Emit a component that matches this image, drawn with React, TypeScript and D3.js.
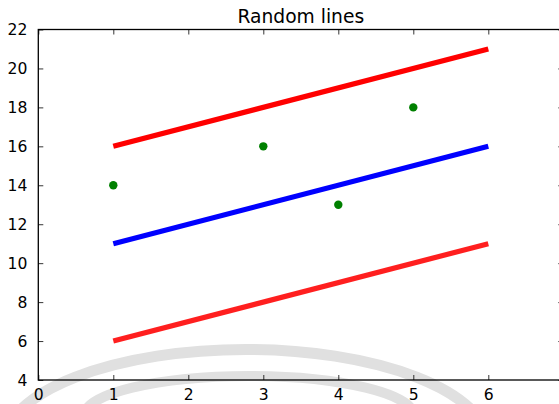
import React, { useRef, useEffect } from "react";
import * as d3 from "d3";

// line endpoints (x) and the y values of the three lines
const lineX = [1, 6];
const upperRed = [16, 21];
const blueLine = [11, 16];
const lowerRed = [6, 11];

// green scatter points
const dotX = [1, 3, 4, 5];
const dotY = [14, 16, 13, 18];

const xTicks = [0, 1, 2, 3, 4, 5, 6, 7];
const yTicks = [4, 6, 8, 10, 12, 14, 16, 18, 20, 22];

function App() {
  const svgRef = useRef<SVGSVGElement | null>(null);

  useEffect(() => {
    const width = 559;
    const height = 404;
    const margin = { top: 29.5, right: -4.3, bottom: 24, left: 38.3 };
    const innerWidth = width - margin.left - margin.right;
    const innerHeight = height - margin.top - margin.bottom;

    const svg = d3.select(svgRef.current);
    svg.selectAll("*").remove();
    svg.attr("width", width).attr("height", height);

    svg.append("rect").attr("width", width).attr("height", height).attr("fill", "#fff");

    // faint grey watermark arcs at the bottom
    const wm = svg.append("g").attr("fill", "none").attr("stroke", "#e0e0e0");
    wm.append("ellipse")
      .attr("cx", 246).attr("cy", 444.5).attr("rx", 242).attr("ry", 95)
      .attr("stroke-width", 11);
    wm.append("ellipse")
      .attr("cx", 249).attr("cy", 416).attr("rx", 165).attr("ry", 40)
      .attr("stroke-width", 10);

    const x = d3.scaleLinear().domain([0, 7]).range([0, innerWidth]);
    const y = d3.scaleLinear().domain([4, 22]).range([innerHeight, 0]);

    const g = svg.append("g").attr("transform", `translate(${margin.left},${margin.top})`);

    const line = d3
      .line<number>()
      .x((_, i) => x(lineX[i]))
      .y((d) => y(d));

    const series: [number[], string, number][] = [
      [upperRed, "#ff0000", 1],
      [blueLine, "#0000ff", 1],
      [lowerRed, "#ff0000", 0.88],
    ];
    series.forEach(([vals, color, op]) => {
      g.append("path")
        .datum(vals)
        .attr("d", line)
        .attr("fill", "none")
        .attr("stroke", color)
        .attr("stroke-opacity", op)
        .attr("stroke-width", 5.2)
        .attr("stroke-linecap", "butt");
    });

    g.selectAll("circle.dot")
      .data(dotX)
      .enter()
      .append("circle")
      .attr("class", "dot")
      .attr("cx", (d) => x(d))
      .attr("cy", (_, i) => y(dotY[i]))
      .attr("r", 4.2)
      .attr("fill", "#008000");

    // frame
    g.append("rect")
      .attr("width", innerWidth)
      .attr("height", innerHeight)
      .attr("fill", "none")
      .attr("stroke", "#000")
      .attr("stroke-width", 1.3);

    const tickLen = 5;
    const font = "'DejaVu Sans', sans-serif";

    const xAxisB = d3.axisBottom(x).tickValues(xTicks).tickFormat(d3.format("d")).tickSizeInner(-tickLen).tickSizeOuter(0).tickPadding(9);
    const xAxisT = d3.axisTop(x).tickValues(xTicks).tickSizeInner(-tickLen).tickSizeOuter(0).tickFormat(() => "");
    const yAxisL = d3.axisLeft(y).tickValues(yTicks).tickFormat(d3.format("d")).tickSizeInner(-tickLen).tickSizeOuter(0).tickPadding(11);
    const yAxisR = d3.axisRight(y).tickValues(yTicks).tickSizeInner(-tickLen).tickSizeOuter(0).tickFormat(() => "");

    const axes = [
      g.append("g").attr("transform", `translate(0,${innerHeight})`).call(xAxisB),
      g.append("g").call(xAxisT),
      g.append("g").call(yAxisL),
      g.append("g").attr("transform", `translate(${innerWidth},0)`).call(yAxisR),
    ];
    axes.forEach((a) => {
      a.select(".domain").remove();
      a.selectAll(".tick line").attr("stroke", "#000").attr("stroke-width", 0.8);
      a.selectAll(".tick text")
        .attr("fill", "#000")
        .style("font-family", font)
        .style("font-size", "15.6px");
    });

    svg.append("text")
      .attr("x", margin.left + innerWidth / 2)
      .attr("y", 22.5)
      .attr("text-anchor", "middle")
      .style("font-family", font)
      .style("font-size", "18.7px")
      .attr("fill", "#000")
      .text("Random lines");
  }, []);

  return <svg ref={svgRef} style={{ position: "absolute", left: 0, top: 0 }}></svg>;
}

export default App;
